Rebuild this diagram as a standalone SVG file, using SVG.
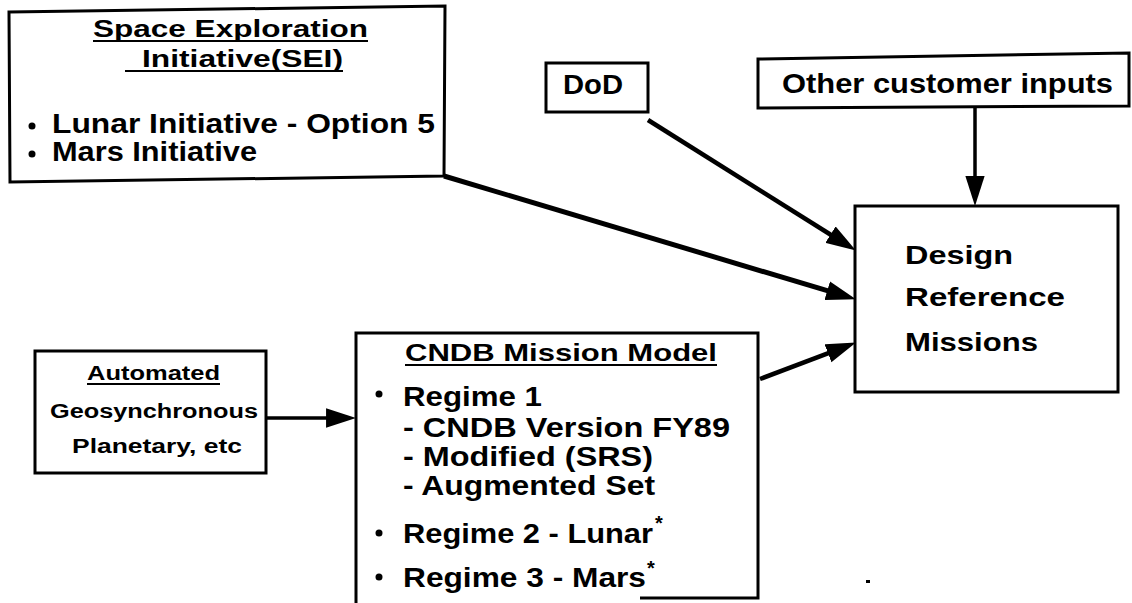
<svg xmlns="http://www.w3.org/2000/svg" width="1132" height="603" viewBox="0 0 1132 603">
  <style>
    .box { fill: #fff; stroke: #000; stroke-width: 3; stroke-linejoin: miter; }
    .t { font-family: "Liberation Sans", Arial, Helvetica, sans-serif; font-weight: bold; fill: #000; }
    .ul { stroke: #000; stroke-width: 2; }
    .wire { stroke: #000; fill: none; }
    .dot { fill: #000; }
  </style>
  <defs>
    <marker id="head" markerUnits="userSpaceOnUse" markerWidth="30" markerHeight="20" viewBox="0 0 28 18" refX="13" refY="9" orient="auto">
      <path d="M0,0 L28,9 L0,18 Z" fill="#000"/>
    </marker>
  </defs>

  <rect width="1132" height="603" fill="#fff"/>

  <!-- connectors -->
  <g id="connectors">
    <line class="wire" stroke-width="5" x1="444" y1="176" x2="840.6" y2="294.7" marker-end="url(#head)"/>
    <line class="wire" stroke-width="4.5" x1="648" y1="120" x2="842.3" y2="242" marker-end="url(#head)"/>
    <line class="wire" stroke-width="3.5" x1="975" y1="107" x2="975" y2="190" marker-end="url(#head)"/>
    <line class="wire" stroke-width="4.5" x1="760" y1="379" x2="841" y2="348.3" marker-end="url(#head)"/>
    <line class="wire" stroke-width="3.5" x1="266" y1="418" x2="340" y2="418" marker-end="url(#head)"/>
  </g>

  <!-- Space Exploration Initiative -->
  <g id="sei">
    <path class="box" d="M9,12 L445,6 L444,176 L10,182 Z"/>
    <text class="t" x="93" y="37" font-size="23" textLength="275" lengthAdjust="spacingAndGlyphs">Space Exploration</text>
    <line class="ul" x1="93" y1="41" x2="368" y2="41"/>
    <text class="t" x="142" y="67" font-size="23" textLength="201" lengthAdjust="spacingAndGlyphs">Initiative(SEI)</text>
    <line class="ul" x1="125" y1="71" x2="343" y2="71"/>
    <circle class="dot" cx="32" cy="126" r="3.5"/>
    <text class="t" x="52" y="133" font-size="27" textLength="383" lengthAdjust="spacingAndGlyphs">Lunar Initiative - Option 5</text>
    <circle class="dot" cx="32" cy="154" r="3.5"/>
    <text class="t" x="52" y="161" font-size="27" textLength="205" lengthAdjust="spacingAndGlyphs">Mars Initiative</text>
  </g>

  <!-- DoD -->
  <g id="dod">
    <rect class="box" x="546" y="63" width="102" height="49"/>
    <text class="t" x="563" y="94" font-size="28" textLength="60" lengthAdjust="spacingAndGlyphs">DoD</text>
  </g>

  <!-- Other customer inputs -->
  <g id="other">
    <path class="box" d="M758,59 L1129,53 L1129,106 L758,108 Z"/>
    <text class="t" x="782" y="93" font-size="28" textLength="331" lengthAdjust="spacingAndGlyphs">Other customer inputs</text>
  </g>

  <!-- Design Reference Missions -->
  <g id="drm">
    <rect class="box" x="855" y="206" width="263" height="186"/>
    <text class="t" x="905" y="264" font-size="26" textLength="108" lengthAdjust="spacingAndGlyphs">Design</text>
    <text class="t" x="905" y="306" font-size="26" textLength="160" lengthAdjust="spacingAndGlyphs">Reference</text>
    <text class="t" x="905" y="351" font-size="26" textLength="133" lengthAdjust="spacingAndGlyphs">Missions</text>
  </g>

  <!-- Automated -->
  <g id="automated">
    <rect class="box" x="35" y="351" width="231" height="122"/>
    <text class="t" x="87" y="380" font-size="20" textLength="133" lengthAdjust="spacingAndGlyphs">Automated</text>
    <line class="ul" x1="87" y1="384" x2="220" y2="384"/>
    <text class="t" x="50" y="418" font-size="20" textLength="208" lengthAdjust="spacingAndGlyphs">Geosynchronous</text>
    <text class="t" x="72" y="453" font-size="20" textLength="170" lengthAdjust="spacingAndGlyphs">Planetary,  etc</text>
  </g>

  <!-- CNDB Mission Model -->
  <g id="cndb">
    <path class="box" d="M640,598 L758,598 L758,333 L356,333 L356,603" fill="none"/>
    <text class="t" x="405" y="361" font-size="24" textLength="312" lengthAdjust="spacingAndGlyphs">CNDB Mission Model</text>
    <line class="ul" x1="405" y1="365" x2="717" y2="365"/>
    <circle class="dot" cx="379" cy="394" r="3.5"/>
    <text class="t" x="403" y="406" font-size="28" textLength="139" lengthAdjust="spacingAndGlyphs">Regime 1</text>
    <text class="t" x="403" y="437" font-size="28" textLength="327" lengthAdjust="spacingAndGlyphs">- CNDB Version FY89</text>
    <text class="t" x="403" y="466" font-size="28" textLength="250" lengthAdjust="spacingAndGlyphs">- Modified (SRS)</text>
    <text class="t" x="403" y="495" font-size="28" textLength="252" lengthAdjust="spacingAndGlyphs">- Augmented Set</text>
    <circle class="dot" cx="379" cy="533" r="3.5"/>
    <text class="t" x="403" y="543" font-size="28" textLength="250" lengthAdjust="spacingAndGlyphs">Regime 2 - Lunar</text>
    <text class="t" x="655" y="530" font-size="20">*</text>
    <circle class="dot" cx="379" cy="577" r="3.5"/>
    <text class="t" x="403" y="587" font-size="28" textLength="243" lengthAdjust="spacingAndGlyphs">Regime 3 - Mars</text>
    <text class="t" x="647" y="575" font-size="20">*</text>
  </g>

  <!-- stray mark -->
  <rect x="866" y="580" width="4" height="3" fill="#000"/>
</svg>
